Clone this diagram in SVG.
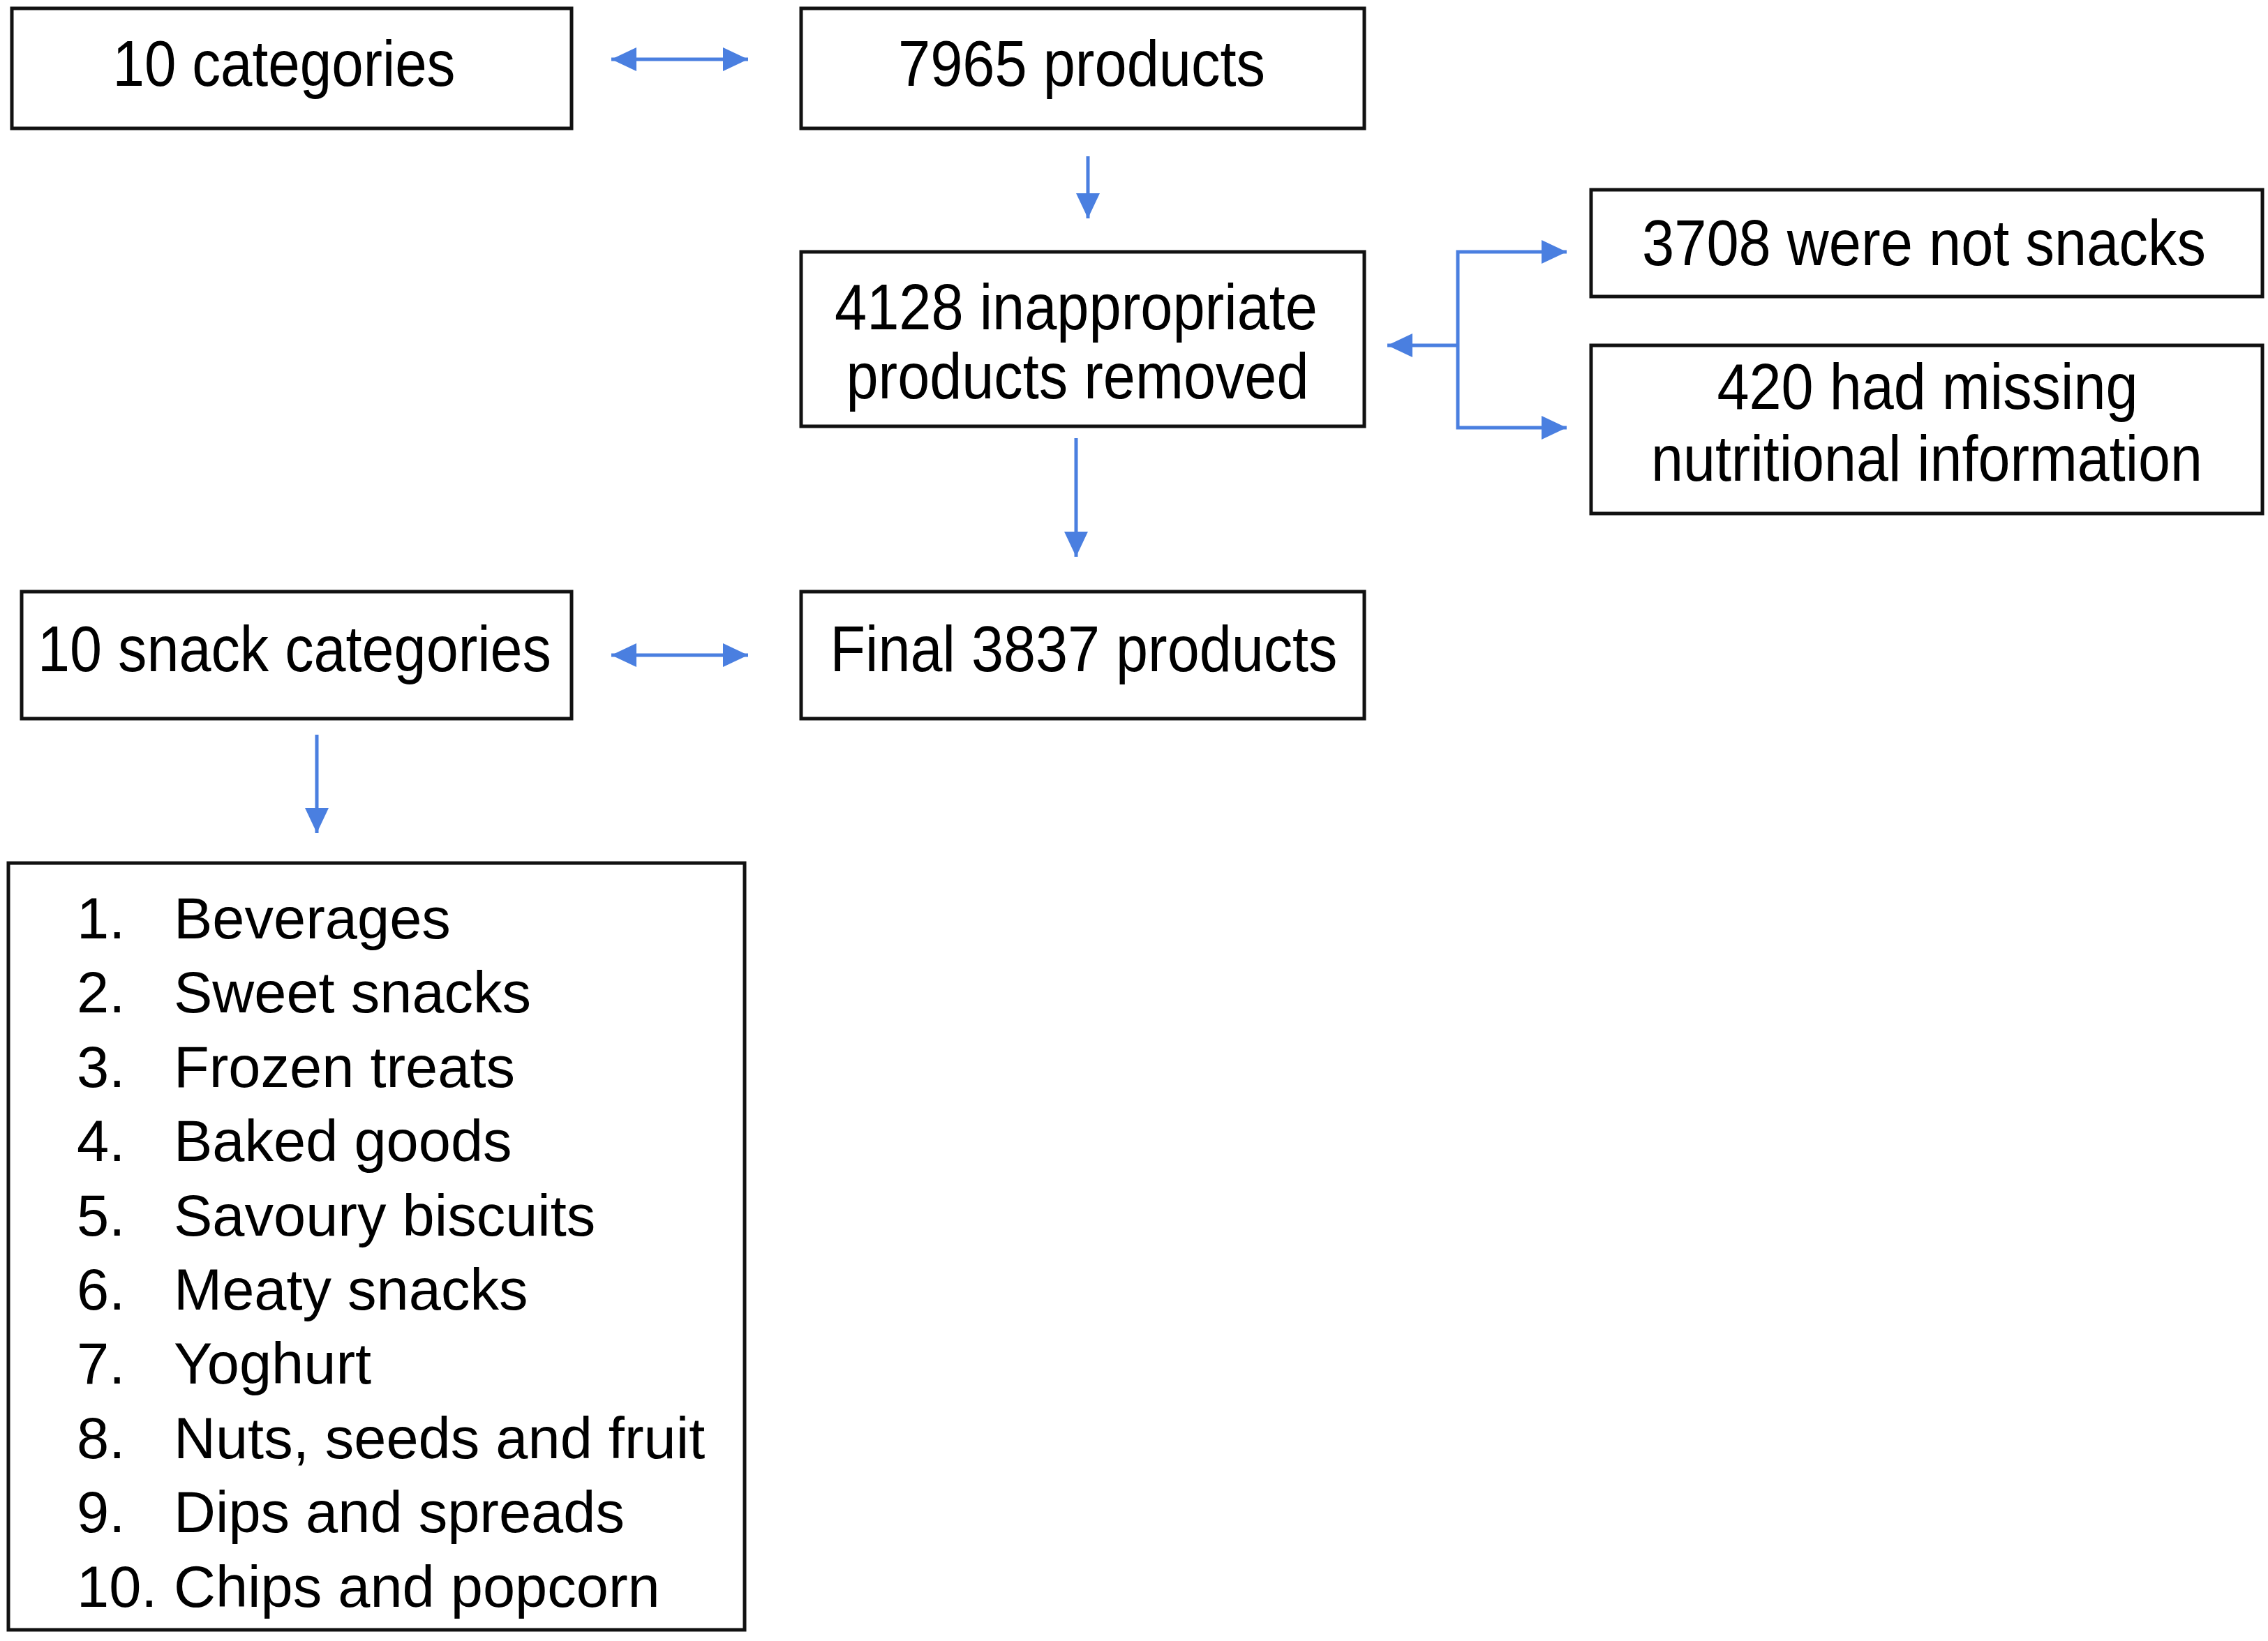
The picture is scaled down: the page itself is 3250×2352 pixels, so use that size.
<svg xmlns="http://www.w3.org/2000/svg" width="3250" height="2352" viewBox="0 0 3250 2352">
<style>
.box{fill:#fff;stroke:#111;stroke-width:5}
.t{font-family:"Liberation Sans",Arial,sans-serif;font-size:92px;fill:#000;text-anchor:middle}
.l{font-family:"Liberation Sans",Arial,sans-serif;font-size:83px;fill:#000}
.c{fill:none;stroke:#4a7fe0;stroke-width:5}
</style>
<defs>
<marker id="ah" markerUnits="userSpaceOnUse" markerWidth="44" markerHeight="40" refX="36" refY="17" orient="auto-start-reverse" viewBox="0 0 44 40">
<path d="M0,0 L36,17 L0,34 z" fill="#4a7fe0"/>
</marker>
</defs>
<rect width="3250" height="2352" fill="#fff"/>
<g id="connectors">
<line class="c" x1="876" y1="85" x2="1072" y2="85" marker-start="url(#ah)" marker-end="url(#ah)"/>
<line class="c" x1="1559" y1="224" x2="1559" y2="313" marker-end="url(#ah)"/>
<path class="c" d="M2245,361 H2089 V613 H2245" marker-start="url(#ah)" marker-end="url(#ah)"/>
<line class="c" x1="2089" y1="495" x2="1988" y2="495" marker-end="url(#ah)"/>
<line class="c" x1="1542" y1="628" x2="1542" y2="798" marker-end="url(#ah)"/>
<line class="c" x1="876" y1="939" x2="1072" y2="939" marker-start="url(#ah)" marker-end="url(#ah)"/>
<line class="c" x1="454" y1="1053" x2="454" y2="1194" marker-end="url(#ah)"/>
</g>
<g id="n1"><rect class="box" x="17" y="12" width="802" height="172"/><text class="t" x="407" y="123" textLength="491" lengthAdjust="spacingAndGlyphs">10 categories</text></g>
<g id="n2"><rect class="box" x="1148" y="12" width="807" height="172"/><text class="t" x="1550" y="123" textLength="526" lengthAdjust="spacingAndGlyphs">7965 products</text></g>
<g id="n3"><rect class="box" x="1148" y="361" width="807" height="250"/><text class="t" x="1542" y="472" textLength="692" lengthAdjust="spacingAndGlyphs">4128 inappropriate</text><text class="t" x="1544" y="571" textLength="663" lengthAdjust="spacingAndGlyphs">products removed</text></g>
<g id="n4"><rect class="box" x="2280" y="272" width="962" height="153"/><text class="t" x="2757" y="380" textLength="808" lengthAdjust="spacingAndGlyphs">3708 were not snacks</text></g>
<g id="n5"><rect class="box" x="2280" y="495" width="962" height="241"/><text class="t" x="2762" y="586" textLength="603" lengthAdjust="spacingAndGlyphs">420 had missing</text><text class="t" x="2761" y="689" textLength="790" lengthAdjust="spacingAndGlyphs">nutritional information</text></g>
<g id="n6"><rect class="box" x="1148" y="848" width="807" height="182"/><text class="t" x="1553" y="962" textLength="727" lengthAdjust="spacingAndGlyphs">Final 3837 products</text></g>
<g id="n7"><rect class="box" x="31" y="848" width="788" height="182"/><text class="t" x="422" y="962" textLength="736" lengthAdjust="spacingAndGlyphs">10 snack categories</text></g>
<g id="n8"><rect class="box" x="12" y="1237" width="1055" height="1099"/>
<text class="l" x="110" y="1345">1.</text><text class="l" x="249" y="1345">Beverages</text>
<text class="l" x="110" y="1451">2.</text><text class="l" x="249" y="1451">Sweet snacks</text>
<text class="l" x="110" y="1558">3.</text><text class="l" x="249" y="1558">Frozen treats</text>
<text class="l" x="110" y="1664">4.</text><text class="l" x="249" y="1664">Baked goods</text>
<text class="l" x="110" y="1771">5.</text><text class="l" x="249" y="1771">Savoury biscuits</text>
<text class="l" x="110" y="1877">6.</text><text class="l" x="249" y="1877">Meaty snacks</text>
<text class="l" x="110" y="1983">7.</text><text class="l" x="249" y="1983">Yoghurt</text>
<text class="l" x="110" y="2090">8.</text><text class="l" x="249" y="2090">Nuts, seeds and fruit</text>
<text class="l" x="110" y="2196">9.</text><text class="l" x="249" y="2196">Dips and spreads</text>
<text class="l" x="110" y="2303">10.</text><text class="l" x="249" y="2303">Chips and popcorn</text>
</g>
</svg>
